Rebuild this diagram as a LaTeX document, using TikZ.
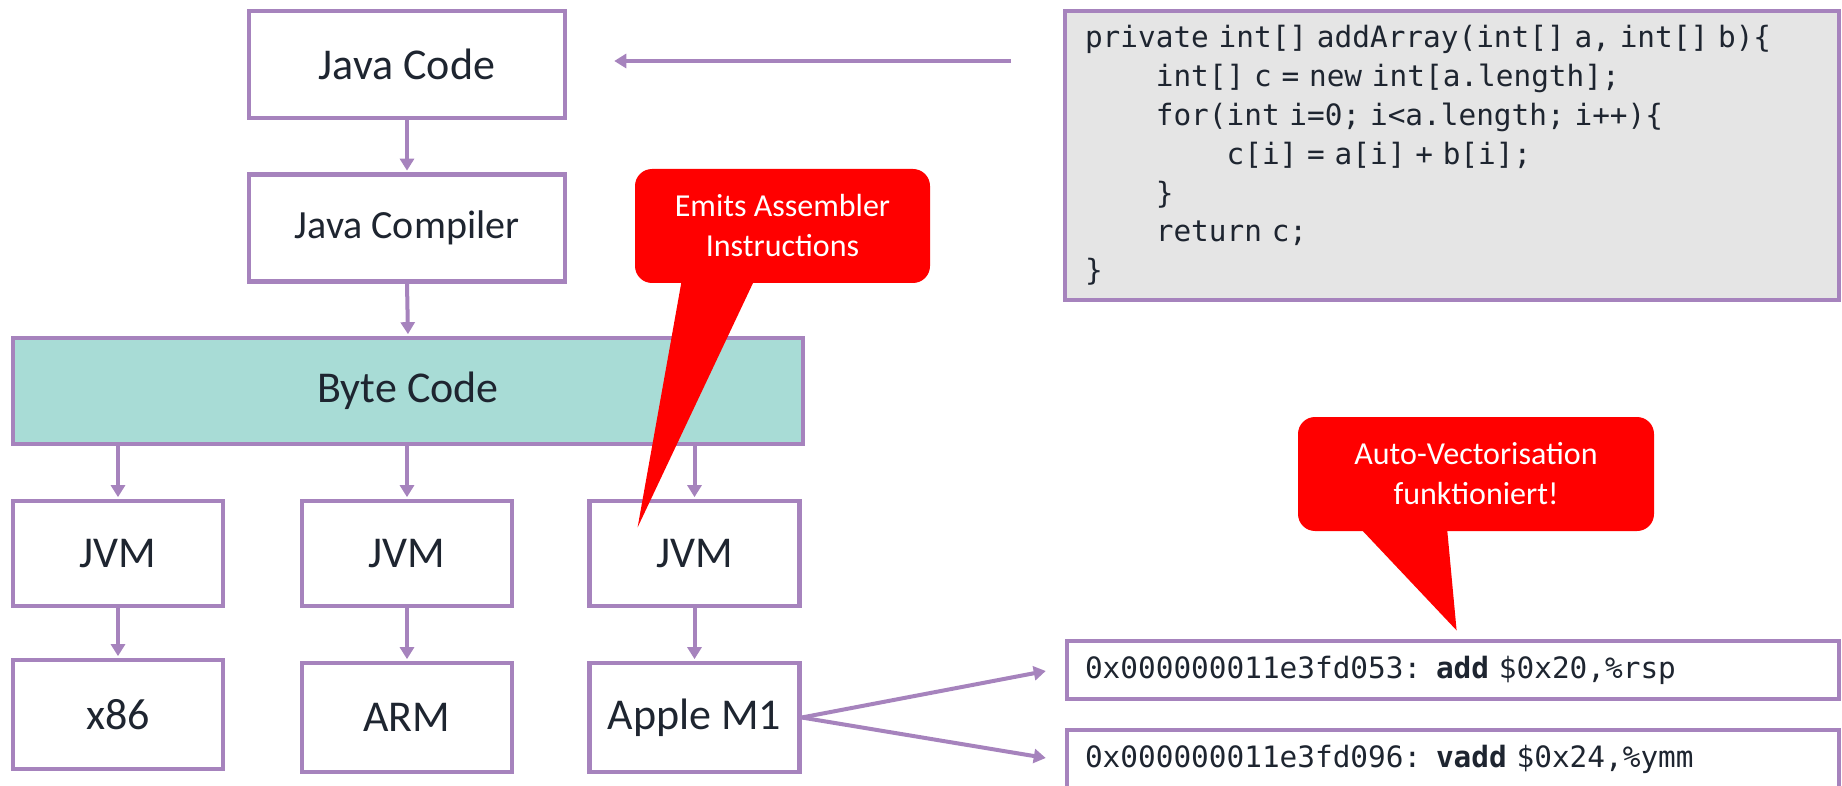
\documentclass[tikz,border=0pt]{standalone}
\usepackage{fontspec}
\setmainfont{Carlito}
\newfontfamily\codefont{DejaVu Sans Mono}
\usetikzlibrary{arrows.meta,calc}

\definecolor{boxline}{RGB}{166,131,189}
\definecolor{bytefill}{RGB}{168,220,214}
\definecolor{codefill}{RGB}{229,229,229}
\definecolor{ink}{RGB}{30,37,48}
\definecolor{alertred}{RGB}{255,0,0}

% monospaced text with a space exactly one character wide
\newcommand\codesetup{\codefont\fontsize{14.7}{19.4}\selectfont
  \spaceskip=0.602em plus 0pt minus 0pt\relax}

\tikzset{
  block/.style={draw=boxline, line width=2.25pt, fill=white, text=ink,
    inner sep=0pt, minimum width=158pt, minimum height=53.5pt,
    font=\fontsize{22}{26}\selectfont},
  small/.style={minimum width=105pt, minimum height=52.5pt},
  conn/.style={draw=boxline, line width=2pt,
    -{Triangle[width=7pt,length=6pt]}, shorten >=0.8pt},
  codebox/.style={draw=boxline, line width=2.25pt, fill=codefill, text=ink,
    inner xsep=10pt, inner ysep=0pt, text width=367pt, align=left,
    font=\codesetup},
  asmbox/.style={draw=boxline, line width=2.25pt, fill=white, text=ink,
    inner xsep=9pt, inner ysep=0pt, text width=368pt, align=left,
    minimum height=29pt, font=\codesetup},
  callout/.style={fill=alertred, text=white, rounded corners=8.5pt,
    inner sep=0pt, align=center, font=\fontsize{16}{20}\selectfont},
}

\begin{document}
\begin{tikzpicture}[x=0.5pt, y=-0.5pt]
\useasboundingbox (0,0) rectangle (1842,786);
\clip (0,0) rectangle (1842,786);

% compilation chain
\node[block] (jcode) at (407,64.5) {Java Code};
\node[block, font=\fontsize{20}{24}\selectfont] (jcomp) at (407,228) {Java Compiler};
\node[block, fill=bytefill, minimum width=395pt, minimum height=53pt] (byte) at (408,391) {Byte Code};

% one JVM per platform
\node[block, small] (jvm1) at (118,553.5) {JVM};
\node[block, small] (jvm2) at (407,553.5) {JVM};
\node[block, small] (jvm3) at (694.5,553.5) {JVM};

\node[block, small, minimum height=54.5pt] (x86) at (118,714.5) {x86};
\node[block, small, minimum height=54.5pt] (arm) at (407,717.5) {ARM};
\node[block, small, minimum height=54.5pt] (m1) at (694.5,717.5) {Apple M1};

% source code
\node[codebox, minimum height=144.5pt] (code) at (1452,155.5) {%
private int[] addArray(int[] a, int[] b)\{\\
\phantom{0000}int[] c = new int[a.length];\\
\phantom{0000}for(int i=0; i<a.length; i++)\{\\
\phantom{00000000}c[i] = a[i] + b[i];\\
\phantom{0000}\}\\
\phantom{0000}return c;\\
\}};

% generated machine code
\node[asmbox] (asm1) at (1453,670) {0x000000011e3fd053: \textbf{add} \$0x20,\%rsp};
\node[asmbox] (asm2) at (1453,759) {0x000000011e3fd096: \textbf{vadd} \$0x24,\%ymm};

% connectors
\coordinate (codefeed) at (1011,61);
\draw[conn, shorten >=0pt] (codefeed) -- ($(codefeed -| jcode.east)+(47,0)$);
\draw[conn] (jcode.south) -- (jcomp.north);
\draw[conn] (jcomp.south) -- (byte.north);
\draw[conn] (byte.south -| jvm1.north) -- (jvm1.north);
\draw[conn] (byte.south -| jvm2.north) -- (jvm2.north);
\draw[conn] (byte.south -| jvm3.north) -- (jvm3.north);
\draw[conn] (jvm1.south) -- (x86.north);
\draw[conn] (jvm2.south) -- (arm.north);
\draw[conn] (jvm3.south) -- (m1.north);
\draw[conn, shorten >=0pt] (m1.east) -- ($(asm1.west)+(-19,1)$);
\draw[conn, shorten >=0pt] (m1.east) -- ($(asm2.west)+(-19,-1)$);

% speech bubbles
\node[callout, minimum width=147.5pt, minimum height=57pt] (emit) at (782.5,226)
  {Emits Assembler\\Instructions};
\fill[alertred] ($(emit.south west)+(48,-8)$) -- ($(emit.south west)+(122,-8)$)
  -- ($(emit.south west)+(3,244)$) -- cycle;

\node[callout, minimum width=178pt, minimum height=57pt] (autovec) at (1476,474)
  {Auto-Vectorisation\\funktioniert!};
\fill[alertred] ($(autovec.south west)+(58,-8)$) -- ($(autovec.south west)+(149,-8)$)
  -- ($(autovec.south west)+(159,99)$) -- cycle;
\end{tikzpicture}
\end{document}
